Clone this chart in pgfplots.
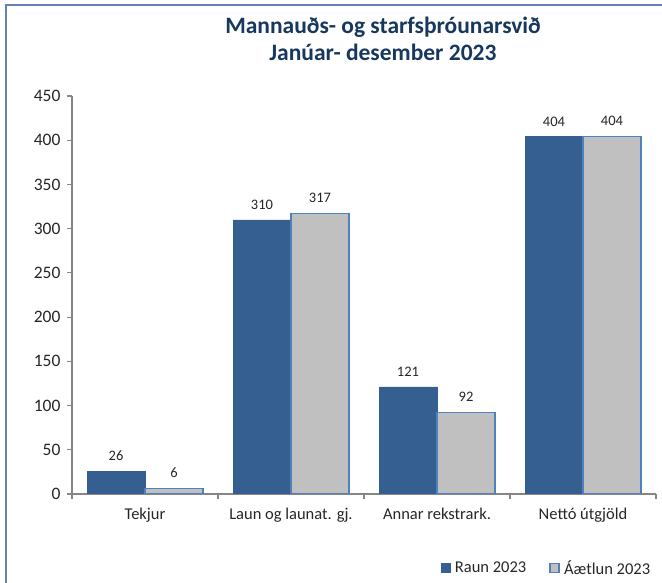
\documentclass[border=0pt]{standalone}
\usepackage{fontspec}
\setmainfont{Carlito}
\usepackage{pgfplots}
\pgfplotsset{compat=1.18}
\definecolor{raun}{RGB}{54,95,145}
\definecolor{aetlun}{RGB}{192,192,192}
\definecolor{aetlunedge}{RGB}{79,129,189}
\definecolor{titlecol}{RGB}{23,55,94}
\definecolor{framecol}{RGB}{100,130,180}
\definecolor{axiscol}{RGB}{134,134,134}
\begin{document}
\begin{tikzpicture}
\useasboundingbox (0,0) rectangle (662bp,583bp);
\draw[framecol, line width=2bp] (6bp,0) -- (6bp,578bp) -- (662bp,578bp);
\node[font=\fontsize{23.5bp}{27bp}\selectfont\bfseries, text=titlecol, align=center]
  at (383bp,544bp) {Mannauðs- og starfsþróunarsvið\\Janúar- desember 2023};
\begin{axis}[
  at={(72bp,89bp)}, anchor=south west,
  width=584bp, height=398bp, scale only axis,
  xmin=-0.5, xmax=3.5, ymin=0, ymax=450,
  ybar=0pt, bar width=58bp,
  axis x line*=bottom, axis y line*=left,
  axis line style={axiscol, line width=1.2bp},
  ytick={0,50,...,450},
  xtick={0,1,2,3},
  xticklabels={Tekjur, Laun og launat. gj., Annar rekstrark., Nettó útgjöld},
  minor xtick={-0.5,0.5,1.5,2.5,3.5},
  major x tick style={draw=none},
  tick align=outside, major tick length=5bp, minor tick length=5bp,
  every tick/.style={axiscol, line width=1.2bp},
  ticklabel style={text=black!85},
  xticklabel style={font=\fontsize{16.5bp}{19bp}\selectfont, yshift=-6bp},
  yticklabel style={font=\fontsize{17.5bp}{20bp}\selectfont, xshift=-3bp},
  /pgf/number format/assume math mode=true,
  nodes near coords,
  every node near coord/.append style={font=\fontsize{14.5bp}{17bp}\selectfont, text=black!85, yshift=7bp},
  legend style={at={(0.992,-0.186)}, anchor=east, draw=none, fill=none, inner sep=0pt,
    font=\fontsize{16.5bp}{19bp}\selectfont, text=black!85,
    nodes={inner sep=1bp},
    /tikz/every even column/.append style={column sep=22bp}},
  legend columns=2,
  legend image code/.code={\path[draw=none, fill=none] (0bp,0bp) -- (13bp,0bp);
    \draw[#1] (0bp,-4.5bp) rectangle (9bp,4.5bp);},
]
\addplot[fill=raun, draw=raun]
  coordinates {(0,26) (1,310) (2,121) (3,404)};
\addplot[fill=aetlun, draw=aetlunedge, line width=1.5bp]
  coordinates {(0,6) (1,317) (2,92) (3,404)};
\legend{Raun 2023, Áætlun 2023}
\end{axis}
\end{tikzpicture}
\end{document}
